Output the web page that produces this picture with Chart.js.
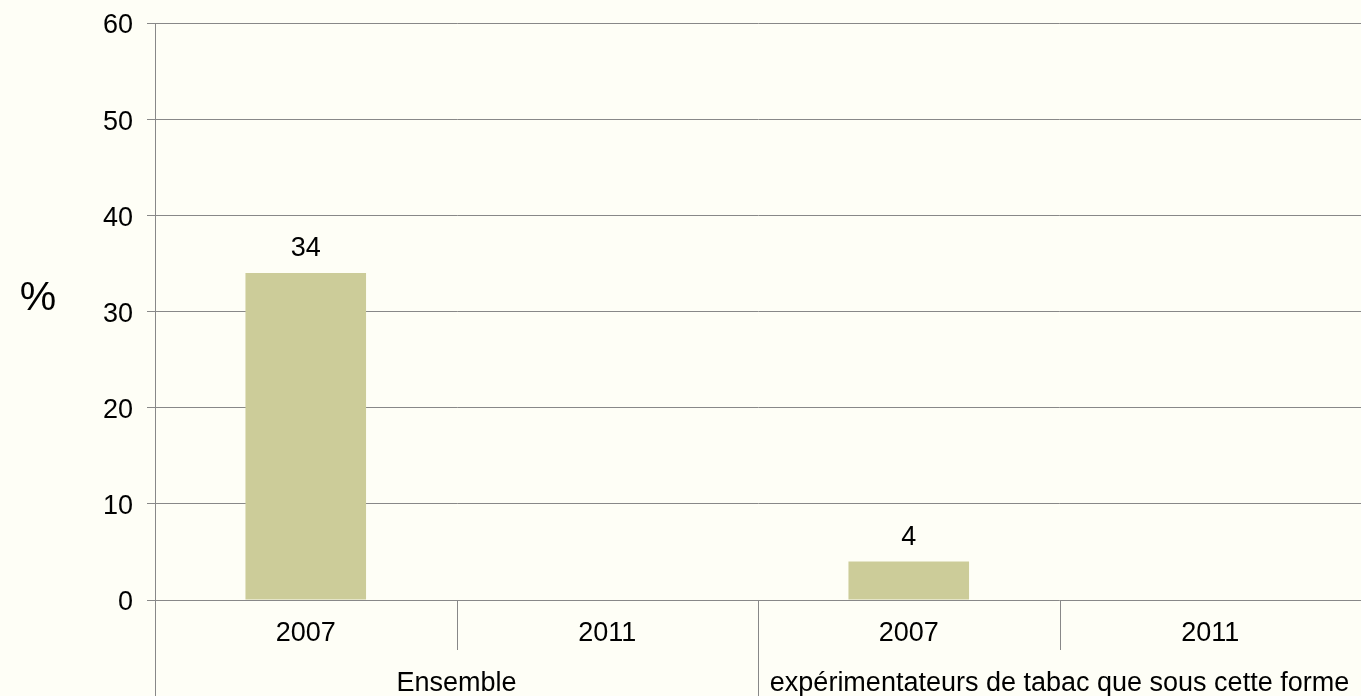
<!DOCTYPE html>
<html>
<head>
<meta charset="utf-8">
<script src="https://cdn.jsdelivr.net/npm/chart.js@4"></script>
<style>
  html, body { margin: 0; padding: 0; background: #fefef6; }
  #wrap { width: 1361px; height: 696px; position: relative; }
</style>
</head>
<body>
<div id="wrap"><canvas id="chart"></canvas></div>
<script>
const years = ["2007", "2011", "2007", "2011"];
const groups = ["Ensemble", "expérimentateurs de tabac que sous cette forme"];
const values = [34, null, 4, null];
const yTicks = [0, 10, 20, 30, 40, 50, 60];

const FONT = "'Liberation Sans', Arial, sans-serif";
const GRID = "#888888";

// background, axis extension, group dividers, group labels, value labels, "%"
const extras = {
  id: "extras",
  beforeDraw(chart) {
    const c = chart.ctx;
    c.save();
    c.fillStyle = "#fefef6";
    c.fillRect(0, 0, chart.width, chart.height);
    c.restore();
  },
  afterDraw(chart) {
    const c = chart.ctx;
    const area = chart.chartArea;
    const x = chart.scales.x;
    const w = (area.right - area.left) / years.length;
    c.save();
    c.strokeStyle = GRID;
    c.lineWidth = 1;
    c.beginPath();
    for (let i = 0; i < years.length; i++) {
      const px = Math.round(area.left + i * w) + 0.5;
      const long = i % 2 === 0;
      c.moveTo(px, area.bottom);
      c.lineTo(px, long ? chart.height : area.bottom + 50);
    }
    c.stroke();

    c.fillStyle = "#000";
    c.font = "27px " + FONT;
    c.textAlign = "center";
    c.textBaseline = "middle";
    groups.forEach((g, i) => {
      const cx = (x.getPixelForValue(i * 2) + x.getPixelForValue(i * 2 + 1)) / 2;
      c.fillText(g, cx, 684);
    });

    const meta = chart.getDatasetMeta(0);
    meta.data.forEach((bar, i) => {
      if (values[i] == null) return;
      c.fillText(String(values[i]), bar.x, bar.y - 24);
    });

    c.font = "41px " + FONT;
    c.fillText("%", 38, 299);
    c.restore();
  }
};

new Chart(document.getElementById("chart"), {
  type: "bar",
  data: {
    labels: years,
    datasets: [{
      data: values,
      backgroundColor: "#cccc99",
      borderWidth: 0,
      barPercentage: 0.4,
      categoryPercentage: 1
    }]
  },
  options: {
    responsive: true,
    maintainAspectRatio: false,
    animation: false,
    layout: { padding: { top: 23, right: 0, bottom: 0, left: 0 } },
    plugins: { legend: { display: false }, tooltip: { enabled: false } },
    scales: {
      x: {
        grid: { display: false, drawTicks: false },
        border: { display: false },
        ticks: { color: "#000", font: { family: FONT, size: 27 }, padding: 17, maxRotation: 0 },
        afterFit(scale) { scale.height = 96; }
      },
      y: {
        min: 0,
        max: 60,
        afterBuildTicks(scale) { scale.ticks = yTicks.map(v => ({ value: v })); },
        grid: { color: GRID, lineWidth: 1, drawTicks: true, tickLength: 8 },
        border: { display: true, color: GRID, width: 1 },
        ticks: { color: "#000", font: { family: FONT, size: 27 }, padding: 14, labelOffset: 3 },
        afterFit(scale) {
          scale.width = 155;
          scale.paddingTop = 0;
          scale.paddingBottom = 0;
        }
      }
    }
  },
  plugins: [extras]
});
</script>
</body>
</html>
